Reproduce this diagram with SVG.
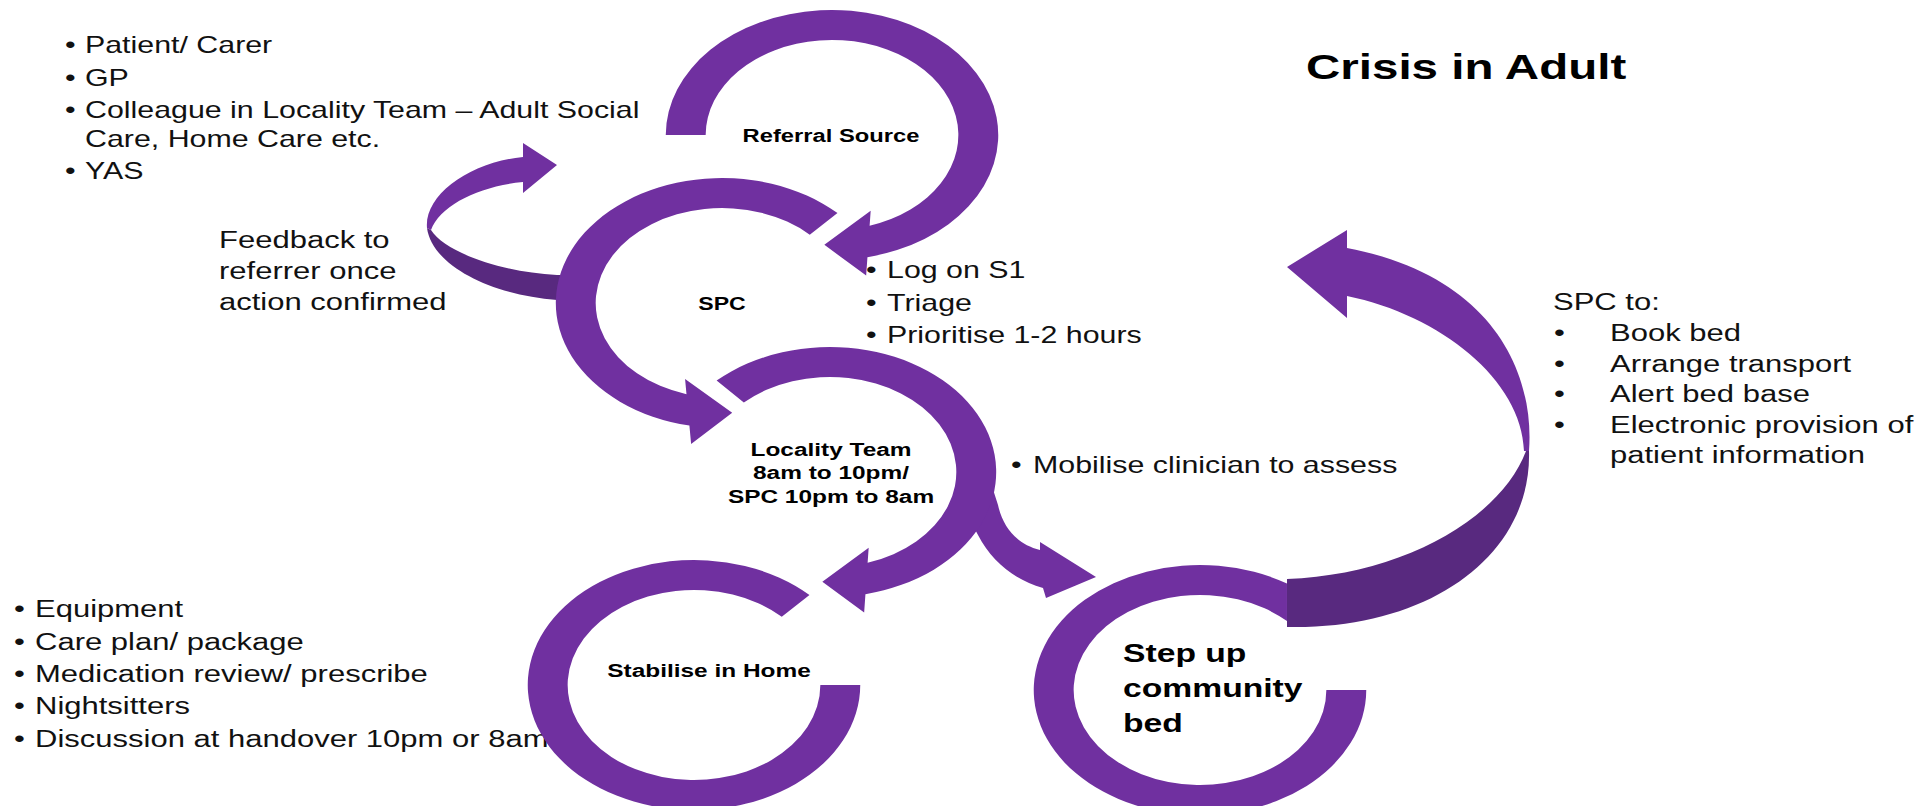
<svg xmlns="http://www.w3.org/2000/svg" width="1924" height="806" viewBox="0 0 1924 806">
<style>
.ring{fill:#7030A0}
.dark{fill:#58297F}
.t{font-family:"Liberation Sans",Arial,sans-serif;font-size:23px;fill:#111}
.t2{font-family:"Liberation Sans",Arial,sans-serif;font-size:23.5px;fill:#111}
.b{font-family:"Liberation Sans",Arial,sans-serif;font-weight:bold;fill:#000}
.c{text-anchor:middle}
</style>
<rect width="1924" height="806" fill="#ffffff"/>

<g id="title">
<text class="b" font-size="36" transform="translate(1306,79) scale(1.32,1)">Crisis in Adult</text>
</g>

<g id="referral-sources-list">
<text class="t" transform="translate(65,53) scale(1.32,1)">•</text>
<text class="t" transform="translate(85,53) scale(1.32,1)">Patient/ Carer</text>
<text class="t" transform="translate(65,86) scale(1.32,1)">•</text>
<text class="t" transform="translate(85,86) scale(1.32,1)">GP</text>
<text class="t" transform="translate(65,118) scale(1.32,1)">•</text>
<text class="t" transform="translate(85,118) scale(1.32,1)">Colleague in Locality Team – Adult Social</text>
<text class="t" transform="translate(85,147) scale(1.32,1)">Care, Home Care etc.</text>
<text class="t" transform="translate(65,179) scale(1.32,1)">•</text>
<text class="t" transform="translate(85,179) scale(1.32,1)">YAS</text>
</g>

<g id="feedback-label">
<text class="t2" transform="translate(219,248) scale(1.32,1)">Feedback to</text>
<text class="t2" transform="translate(219,279) scale(1.32,1)">referrer once</text>
<text class="t2" transform="translate(219,310) scale(1.32,1)">action confirmed</text>
</g>

<g id="spc-actions">
<text class="t" transform="translate(866,278) scale(1.32,1)">•</text>
<text class="t" transform="translate(887,278) scale(1.32,1)">Log on S1</text>
<text class="t" transform="translate(866,311) scale(1.32,1)">•</text>
<text class="t" transform="translate(887,311) scale(1.32,1)">Triage</text>
<text class="t" transform="translate(866,343) scale(1.32,1)">•</text>
<text class="t" transform="translate(887,343) scale(1.32,1)">Prioritise 1-2 hours</text>
</g>

<g id="mobilise-label">
<text class="t" transform="translate(1011,473) scale(1.32,1)">•</text>
<text class="t" transform="translate(1033,473) scale(1.32,1)">Mobilise clinician to assess</text>
</g>

<g id="spc-to-list">
<text class="t2" transform="translate(1553,310) scale(1.32,1)">SPC to:</text>
<text class="t2" font-size="18" transform="translate(1554,341) scale(1.32,1)">•</text>
<text class="t2" transform="translate(1610,341) scale(1.32,1)">Book bed</text>
<text class="t2" font-size="18" transform="translate(1554,372) scale(1.32,1)">•</text>
<text class="t2" transform="translate(1610,372) scale(1.32,1)">Arrange transport</text>
<text class="t2" font-size="18" transform="translate(1554,402) scale(1.32,1)">•</text>
<text class="t2" transform="translate(1610,402) scale(1.32,1)">Alert bed base</text>
<text class="t2" font-size="18" transform="translate(1554,433) scale(1.32,1)">•</text>
<text class="t2" transform="translate(1610,433) scale(1.32,1)">Electronic provision of</text>
<text class="t2" transform="translate(1610,463) scale(1.32,1)">patient information</text>
</g>

<g id="home-actions">
<text class="t2" transform="translate(14,617) scale(1.32,1)">•</text>
<text class="t2" transform="translate(35,617) scale(1.32,1)">Equipment</text>
<text class="t2" transform="translate(14,650) scale(1.32,1)">•</text>
<text class="t2" transform="translate(35,650) scale(1.32,1)">Care plan/ package</text>
<text class="t2" transform="translate(14,682) scale(1.32,1)">•</text>
<text class="t2" transform="translate(35,682) scale(1.32,1)">Medication review/ prescribe</text>
<text class="t2" transform="translate(14,714) scale(1.32,1)">•</text>
<text class="t2" transform="translate(35,714) scale(1.32,1)">Nightsitters</text>
<text class="t2" transform="translate(14,747) scale(1.32,1)">•</text>
<text class="t2" transform="translate(35,747) scale(1.32,1)">Discussion at handover 10pm or 8am</text>
</g>

<g id="connectors">
<!-- feedback arrow: SPC back to referrer -->
<path class="dark" d="M565,275 L557,275 C500,272 445,252 431,230 L427,228 C432,265 490,295 557,300 L565,300 Z"/>
<path class="ring" d="M427,228 C424,195 470,162 523,157 L523,143 L557,165 L523,193 L523,182 C480,186 440,205 431,230 Z"/>
<!-- branch: Locality Team to Step up community bed -->
<path class="ring" d="M990,480 L998,505 C1003,528 1018,545 1040,550 L1040,542 L1096,577 L1046,598 L1043,588 C1015,580 992,562 978,535 L970,520 Z"/>
<!-- return arrow: Step up community bed back to SPC -->
<path class="ring" d="M1529,451 C1535,370 1490,275 1347,248 L1347,230 L1287,267 L1347,318 L1347,296 C1440,315 1522,380 1524,451 Z"/>
<path class="dark" d="M1287,579 C1400,575 1500,520 1526,451 L1529,451 C1532,555 1430,630 1287,627 Z"/>
</g>

<g id="node-referral-source">
<path class="ring" transform="translate(832,135) scale(1.33,1)" d="M-125,0 A125,125 0 1 1 26.64,122.16 L25.68,140.54 L-5.76,109.85 L29.08,75.63 L28.29,90.7 A95,95 0 1 0 -95,0 Z"/>
<text class="b c" font-size="18" transform="translate(831,142) scale(1.32,1)">Referral Source</text>
</g>

<g id="node-spc">
<path class="ring" transform="translate(722,303) scale(1.33,1)" d="M86.83,-89.92 A125,125 0 1 0 -24.51,122.61 L-23.22,140.96 L7.67,109.73 L-27.76,76.12 L-26.7,91.19 A95,95 0 1 1 65.99,-68.34 Z"/>
<text class="b c" font-size="17.5" transform="translate(722,310) scale(1.32,1)">SPC</text>
</g>

<g id="node-locality-team">
<path class="ring" transform="translate(830,472) scale(1.33,1)" d="M-85.25,-91.42 A125,125 0 1 1 26.64,122.16 L25.68,140.54 L-5.76,109.85 L29.08,75.63 L28.29,90.7 A95,95 0 1 0 -64.79,-69.48 Z"/>
<text class="b c" font-size="18.5" transform="translate(831,456) scale(1.32,1)">Locality Team</text>
<text class="b c" font-size="18.5" transform="translate(831,479) scale(1.32,1)">8am to 10pm/</text>
<text class="b c" font-size="18.5" transform="translate(831,503) scale(1.32,1)">SPC 10pm to 8am</text>
</g>

<g id="node-stabilise-in-home">
<path class="ring" transform="translate(694,685) scale(1.33,1)" d="M125,0 A125,125 0 1 1 86.83,-89.92 L65.99,-68.34 A95,95 0 1 0 95,0 Z"/>
<text class="b c" font-size="18.5" transform="translate(709,677) scale(1.32,1)">Stabilise in Home</text>
</g>

<g id="node-step-up-community-bed">
<path class="ring" transform="translate(1200,690) scale(1.33,1)" d="M125,0 A125,125 0 1 1 65.4,-106.5 L65.4,-68.9 A95,95 0 1 0 95,0 Z"/>
<text class="b" font-size="25.5" transform="translate(1123,662) scale(1.32,1)">Step up</text>
<text class="b" font-size="25.5" transform="translate(1123,697) scale(1.32,1)">community</text>
<text class="b" font-size="25.5" transform="translate(1123,732) scale(1.32,1)">bed</text>
</g>
</svg>
